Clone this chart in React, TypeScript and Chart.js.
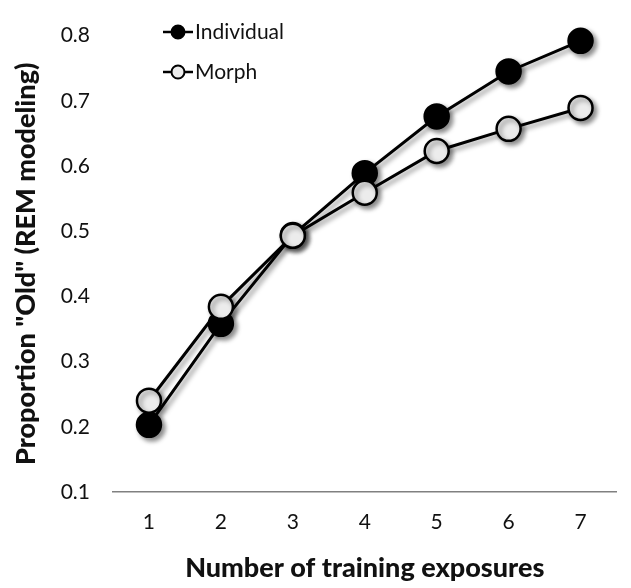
import React, { useEffect, useRef } from 'react';
import { Chart, registerables } from 'chart.js';

Chart.register(...registerables);

const categories = ['1', '2', '3', '4', '5', '6', '7'];
const individualValues = [0.203, 0.358, 0.494, 0.589, 0.676, 0.745, 0.792];
const morphValues = [0.24, 0.384, 0.493, 0.559, 0.623, 0.657, 0.689];
const seriesLabels = ['Individual', 'Morph'];
const yTitle = 'Proportion "Old" (REM modeling)';
const xTitle = 'Number of training exposures';

const FONT = 'Lato, "Open Sans", sans-serif';

const shadowPlugin = {
  id: 'shadowPlugin',
  beforeDatasetsDraw(chart: any) {
    const c = chart.ctx;
    c.save();
    c.shadowColor = 'rgba(0,0,0,0.45)';
    c.shadowBlur = 5;
    c.shadowOffsetX = 3;
    c.shadowOffsetY = 3;
  },
  afterDatasetsDraw(chart: any) {
    chart.ctx.restore();
  },
};

const legendPlugin = {
  id: 'insideLegend',
  afterDraw(chart: any) {
    const c = chart.ctx;
    const x0 = 163;
    const x1 = 193;
    const ys = [32, 72];
    chart.data.datasets.forEach((ds: any, i: number) => {
      const y = ys[i];
      c.save();
      c.strokeStyle = '#000';
      c.lineWidth = 2.5;
      c.beginPath();
      c.moveTo(x0, y);
      c.lineTo(x1, y);
      c.stroke();
      c.beginPath();
      c.arc((x0 + x1) / 2, y, 6.5, 0, Math.PI * 2);
      c.fillStyle = ds.pointBackgroundColor;
      c.fill();
      c.lineWidth = 2;
      c.stroke();
      c.fillStyle = '#111';
      c.font = `21px ${FONT}`;
      c.textBaseline = 'middle';
      c.textAlign = 'left';
      c.fillText(ds.label, x1 + 2, y);
      c.restore();
    });
  },
};

export default function App() {
  const ref = useRef<HTMLCanvasElement | null>(null);

  useEffect(() => {
    if (!ref.current) return;
    const chart = new Chart(ref.current, {
      type: 'line',
      data: {
        labels: categories,
        datasets: [
          {
            label: seriesLabels[0],
            data: individualValues,
            borderColor: '#000',
            borderWidth: 3,
            pointBackgroundColor: '#000',
            pointBorderColor: '#000',
            pointBorderWidth: 2.5,
            pointRadius: 12,
            tension: 0,
            clip: false,
            order: 1,
          } as any,
          {
            label: seriesLabels[1],
            data: morphValues,
            borderColor: '#000',
            borderWidth: 3,
            pointBackgroundColor: '#ececec',
            pointBorderColor: '#000',
            pointBorderWidth: 2.5,
            pointRadius: 12,
            tension: 0,
            clip: false,
            order: 0,
          } as any,
        ],
      },
      options: {
        responsive: false,
        animation: false,
        layout: { padding: { left: 8, right: 0, top: 20, bottom: 4 } },
        plugins: {
          legend: { display: false },
          tooltip: { enabled: false },
        },
        scales: {
          x: {
            offset: true,
            grid: { display: false, drawTicks: false },
            border: { display: true, color: '#808080', width: 1.5 },
            ticks: {
              padding: 18,
              color: '#111',
              font: { family: FONT, size: 21 },
            },
            title: {
              display: true,
              text: xTitle,
              color: '#111',
              padding: { top: 0, bottom: 0 },
              font: { family: FONT, size: 27, weight: 900 },
            },
            afterFit: (s: any) => {
              s.height = 92;
            },
          },
          y: {
            min: 0.1,
            max: 0.8,
            grid: { display: false, drawTicks: false },
            border: { display: false },
            ticks: {
              stepSize: 0.1,
              padding: 23,
              color: '#111',
              font: { family: FONT, size: 21 },
              callback: (v: any) => Number(v).toFixed(1),
            },
            title: {
              display: true,
              text: yTitle,
              color: '#111',
              padding: { top: 2, bottom: 0 },
              font: { family: FONT, size: 27, weight: 900 },
            },
            afterFit: (s: any) => {
              s.width = 105;
            },
          },
        },
      },
      plugins: [shadowPlugin, legendPlugin],
    });
    return () => chart.destroy();
  }, []);

  return (
    <div style={{ position: 'absolute', left: 0, top: 0, width: 631, height: 588 }}>
      <canvas ref={ref} width={631} height={588} style={{ display: 'block' }} />
    </div>
  );
}
